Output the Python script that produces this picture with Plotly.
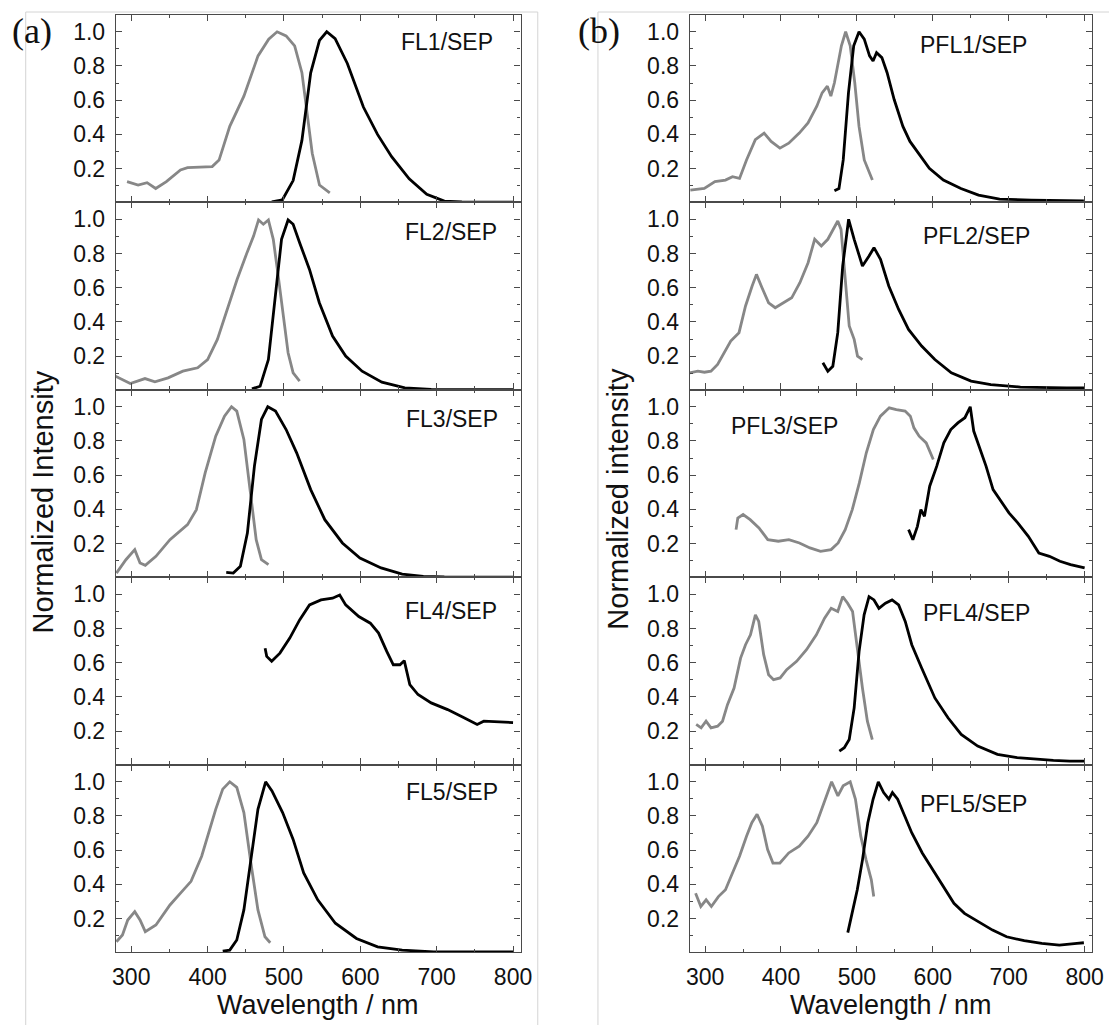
import plotly.graph_objects as go

# ---------------- data ----------------
fl1_ex_x = [294.5, 309, 320.7, 332, 346, 364.5, 373.7, 406, 415, 429, 447.5, 466, 480, 491, 502.8, 514, 523.5, 530, 537, 546.5, 560]
fl1_ex_y = [0.124, 0.104, 0.118, 0.084, 0.124, 0.192, 0.206, 0.212, 0.25, 0.447, 0.624, 0.859, 0.957, 1.0, 0.976, 0.918, 0.761, 0.545, 0.29, 0.104, 0.059]
fl1_em_x = [484, 498, 512, 523.5, 535, 546.5, 556, 567, 583, 604, 622.5, 641, 664, 687, 710, 733, 800]
fl1_em_y = [0.006, 0.018, 0.13, 0.365, 0.76, 0.95, 1.0, 0.96, 0.815, 0.56, 0.40, 0.27, 0.14, 0.05, 0.01, 0.005, 0.004]

fl2_ex_x = [279.3, 288, 298.7, 318, 331, 348.2, 367.6, 387, 400, 412.8, 425.8, 438.7, 451.6, 460.2, 466.7, 473, 479.6, 486, 492.5, 499, 505.4, 512, 520.5]
fl2_ex_y = [0.083, 0.063, 0.04, 0.069, 0.05, 0.073, 0.112, 0.132, 0.18, 0.298, 0.473, 0.649, 0.805, 0.902, 0.996, 0.971, 0.996, 0.883, 0.668, 0.434, 0.22, 0.102, 0.054]
fl2_em_x = [458, 468.8, 479.6, 488.2, 496.8, 505.4, 512, 520.5, 533.4, 546.3, 563.6, 580.8, 602.3, 628.2, 658.3, 692.8, 740, 800]
fl2_em_y = [0.009, 0.024, 0.18, 0.532, 0.883, 0.996, 0.971, 0.863, 0.707, 0.512, 0.317, 0.2, 0.112, 0.048, 0.015, 0.005, 0.004, 0.004]

fl3_ex_x = [280.6, 293, 304.6, 311.5, 318.4, 332.3, 350.7, 373.7, 385.3, 396.8, 410.6, 422.1, 431.3, 438.2, 447.5, 456.7, 463.6, 470.5, 479.7]
fl3_ex_y = [0.028, 0.106, 0.165, 0.087, 0.073, 0.126, 0.223, 0.311, 0.399, 0.614, 0.828, 0.945, 1.0, 0.975, 0.809, 0.458, 0.223, 0.106, 0.077]
fl3_em_x = [424.4, 433.6, 442.9, 452.1, 461.3, 470.5, 478.8, 488.9, 502.8, 516.6, 535, 553.5, 576.5, 599.5, 627.2, 654.8, 682.5, 710, 800]
fl3_em_y = [0.032, 0.028, 0.067, 0.262, 0.653, 0.926, 1.0, 0.975, 0.867, 0.731, 0.516, 0.34, 0.204, 0.116, 0.058, 0.022, 0.009, 0.005, 0.004]

fl4_em_x = [475.3, 477.4, 483.9, 494.7, 507.6, 520.5, 533.4, 548.5, 563.6, 573, 580.8, 598, 613.1, 623.9, 634.6, 643.2, 651.9, 657.5, 664.8, 675.5, 692.8, 714.3, 735.8, 753, 761.7, 780, 800]
fl4_em_y = [0.685, 0.637, 0.608, 0.656, 0.744, 0.85, 0.938, 0.967, 0.977, 0.996, 0.938, 0.87, 0.831, 0.773, 0.666, 0.588, 0.588, 0.612, 0.472, 0.414, 0.365, 0.326, 0.278, 0.239, 0.258, 0.255, 0.25]

fl5_ex_x = [280.6, 288.5, 295.4, 304.6, 311.5, 318.4, 332.3, 350.7, 364.5, 378.3, 392.2, 401.4, 410.6, 419.8, 429, 438.2, 447.5, 456.7, 465.9, 475.1, 482]
fl5_ex_y = [0.065, 0.104, 0.192, 0.241, 0.192, 0.124, 0.163, 0.28, 0.349, 0.418, 0.565, 0.702, 0.839, 0.957, 1.0, 0.967, 0.82, 0.525, 0.251, 0.094, 0.059]
fl5_em_x = [419.8, 429, 438.2, 447.5, 456.7, 465.9, 476, 484.3, 498.2, 512, 525.8, 544.2, 567.3, 594.9, 622.6, 654.8, 696.3, 800]
fl5_em_y = [0.01, 0.016, 0.075, 0.251, 0.545, 0.839, 1.0, 0.947, 0.82, 0.663, 0.467, 0.31, 0.173, 0.084, 0.035, 0.016, 0.006, 0.006]

pfl1_ex_x = [280.6, 299, 313, 326.9, 336.1, 345.4, 354.6, 366.2, 377.8, 387, 398.6, 410.2, 424.1, 435.6, 447.2, 454.2, 461.1, 465.7, 470.4, 475, 479.6, 485.2, 491.2, 497.2, 502.8, 509.7, 520.4]
pfl1_ex_y = [0.075, 0.084, 0.124, 0.133, 0.153, 0.143, 0.251, 0.369, 0.408, 0.359, 0.32, 0.349, 0.408, 0.467, 0.565, 0.643, 0.682, 0.624, 0.702, 0.8, 0.918, 1.0, 0.918, 0.702, 0.447, 0.251, 0.133]
pfl1_em_x = [470.4, 476.4, 482, 488.9, 495.8, 502.8, 509.7, 516.7, 521.3, 525.9, 532.9, 539.8, 549.1, 560.6, 569.9, 581.5, 595.4, 613.9, 637, 660.2, 688, 729.6, 799]
pfl1_em_y = [0.071, 0.084, 0.251, 0.643, 0.918, 1.0, 0.957, 0.859, 0.829, 0.878, 0.849, 0.761, 0.604, 0.447, 0.359, 0.29, 0.202, 0.133, 0.084, 0.045, 0.022, 0.016, 0.012]

pfl2_ex_x = [279.6, 290.5, 299.1, 307.8, 316.5, 325.2, 333.8, 344.7, 353.3, 362, 367.7, 375, 383.7, 392.4, 403.2, 414.1, 424.9, 435.7, 444.4, 453.1, 461.7, 468.3, 474.8, 479.1, 483.4, 489.9, 496.4, 500.8, 507.3]
pfl2_ex_y = [0.102, 0.112, 0.106, 0.112, 0.151, 0.22, 0.288, 0.337, 0.493, 0.61, 0.678, 0.6, 0.512, 0.483, 0.512, 0.541, 0.629, 0.746, 0.883, 0.844, 0.883, 0.941, 0.99, 0.941, 0.727, 0.376, 0.298, 0.2, 0.18]
pfl2_em_x = [455.2, 461.7, 468.3, 474.8, 481.3, 489.1, 496.4, 507.3, 516, 522.5, 531.1, 542, 555, 568, 585.3, 602.7, 624.4, 650.4, 676.4, 715.4, 776.1, 800]
pfl2_em_y = [0.161, 0.112, 0.141, 0.337, 0.727, 1.0, 0.883, 0.727, 0.785, 0.834, 0.766, 0.61, 0.473, 0.356, 0.259, 0.18, 0.102, 0.054, 0.034, 0.019, 0.015, 0.015]

pfl3_ex_x = [340.8, 343.1, 350.1, 359.4, 371, 382.6, 396.5, 410.4, 424.3, 438.2, 452.1, 466, 475.3, 484.6, 493.9, 503.2, 512.4, 521.7, 531, 542.6, 551.9, 563.5, 570.4, 575.1, 582, 591.3, 600.6]
pfl3_ex_y = [0.282, 0.35, 0.37, 0.34, 0.292, 0.223, 0.214, 0.223, 0.204, 0.175, 0.155, 0.165, 0.204, 0.282, 0.399, 0.555, 0.731, 0.867, 0.945, 0.994, 0.984, 0.975, 0.945, 0.877, 0.828, 0.789, 0.692]
pfl3_em_x = [568.1, 573.7, 579.7, 584.3, 589, 595.9, 605.2, 614.5, 623.7, 633, 642.3, 649.3, 653.9, 660.9, 670.1, 679.4, 688.7, 700.3, 711.9, 725.8, 739.7, 753.6, 767.5, 781.4, 800]
pfl3_em_y = [0.282, 0.223, 0.301, 0.399, 0.36, 0.536, 0.653, 0.789, 0.867, 0.906, 0.936, 1.0, 0.858, 0.77, 0.653, 0.516, 0.458, 0.38, 0.321, 0.243, 0.145, 0.126, 0.097, 0.077, 0.058]

pfl4_ex_x = [288.3, 294.8, 301.3, 307.8, 316.5, 323, 329.5, 338.2, 346.8, 353.3, 359.8, 366.3, 370.7, 377.2, 383.7, 390.2, 398.9, 407.5, 420.6, 433.6, 446.6, 457.4, 466.1, 474.8, 481.3, 487.8, 494.3, 500.8, 507.3, 513.8, 520.3]
pfl4_ex_y = [0.239, 0.219, 0.258, 0.219, 0.229, 0.258, 0.355, 0.452, 0.627, 0.705, 0.763, 0.88, 0.841, 0.647, 0.53, 0.501, 0.511, 0.559, 0.608, 0.676, 0.763, 0.86, 0.918, 0.899, 0.986, 0.948, 0.899, 0.666, 0.452, 0.258, 0.151]
pfl4_em_x = [476.9, 483.4, 489.9, 496.4, 502.9, 509.5, 516, 522.5, 529, 537.6, 546.3, 555, 563.7, 572.3, 585.3, 602.7, 620, 637.4, 659.1, 685.1, 711.1, 737.1, 758.8, 780.5, 800]
pfl4_em_y = [0.083, 0.103, 0.151, 0.336, 0.666, 0.88, 0.986, 0.967, 0.918, 0.948, 0.967, 0.938, 0.841, 0.705, 0.569, 0.394, 0.278, 0.181, 0.113, 0.064, 0.045, 0.035, 0.029, 0.025, 0.025]

pfl5_ex_x = [287.5, 294.4, 301.4, 308.3, 317.6, 326.9, 336.1, 345.4, 354.6, 361.6, 368.5, 375.5, 382.4, 389.4, 398.6, 410.2, 424.1, 435.6, 447.2, 456.5, 466.7, 475, 481.9, 491.2, 498.1, 505.1, 512, 519, 522.2]
pfl5_ex_y = [0.349, 0.271, 0.31, 0.271, 0.329, 0.369, 0.467, 0.565, 0.682, 0.761, 0.81, 0.741, 0.604, 0.525, 0.525, 0.584, 0.624, 0.682, 0.761, 0.878, 1.0, 0.918, 0.976, 1.0, 0.898, 0.682, 0.545, 0.427, 0.329]
pfl5_em_x = [488, 493.5, 500.5, 507.4, 514.4, 521.3, 528.2, 535.2, 542.1, 546.8, 553.7, 563, 572.2, 586.1, 600, 613.9, 627.8, 641.7, 660.2, 678.7, 697.2, 720.4, 743.5, 766.7, 789.8, 799]
pfl5_em_y = [0.118, 0.231, 0.369, 0.545, 0.761, 0.898, 1.0, 0.937, 0.898, 0.937, 0.898, 0.8, 0.702, 0.584, 0.486, 0.388, 0.29, 0.231, 0.182, 0.133, 0.094, 0.071, 0.055, 0.045, 0.055, 0.059]

panel_labels = ["FL1/SEP", "FL2/SEP", "FL3/SEP", "FL4/SEP", "FL5/SEP",
                "PFL1/SEP", "PFL2/SEP", "PFL3/SEP", "PFL4/SEP", "PFL5/SEP"]
x_ticks = [300, 400, 500, 600, 700, 800]
x_minor = [350, 450, 550, 650, 750]
y_ticks = [0.2, 0.4, 0.6, 0.8, 1.0]
y_tick_text = ["0.2", "0.4", "0.6", "0.8", "1.0"]
y_minor = [0.1, 0.3, 0.5, 0.7, 0.9]

excitation = [(fl1_ex_x, fl1_ex_y), (fl2_ex_x, fl2_ex_y), (fl3_ex_x, fl3_ex_y), None, (fl5_ex_x, fl5_ex_y),
              (pfl1_ex_x, pfl1_ex_y), (pfl2_ex_x, pfl2_ex_y), (pfl3_ex_x, pfl3_ex_y), (pfl4_ex_x, pfl4_ex_y), (pfl5_ex_x, pfl5_ex_y)]
emission = [(fl1_em_x, fl1_em_y), (fl2_em_x, fl2_em_y), (fl3_em_x, fl3_em_y), (fl4_em_x, fl4_em_y), (fl5_em_x, fl5_em_y),
            (pfl1_em_x, pfl1_em_y), (pfl2_em_x, pfl2_em_y), (pfl3_em_x, pfl3_em_y), (pfl4_em_x, pfl4_em_y), (pfl5_em_x, pfl5_em_y)]

# ---------------- layout geometry (pixels) ----------------
W, H = 1120, 1025
col_x = [(113.5, 523.7), (695.2, 1103.0)]
panel_top0, panel_h = 14.5, 187.5
label_pos = [(650, 0.94), (656, 0.925), (657, 0.93), (656, 0.90), (657, 0.94),
             (581, 0.92), (585, 0.90), (331, 0.89), (585, 0.89), (581, 0.87)]

GRAY = "#878787"
AXC = "#4a4a4a"
SANS = "Liberation Sans, Arial, sans-serif"
TICKFONT = dict(family=SANS, size=23, color="#111111")

fig = go.Figure()
layout = dict(width=W, height=H, margin=dict(l=0, r=0, t=0, b=0),
              paper_bgcolor="white", plot_bgcolor="white", showlegend=False)
annotations = []

for k in range(10):
    n = k + 1
    col, row = divmod(k, 5)
    xs = "x" if n == 1 else f"x{n}"
    ys = "y" if n == 1 else f"y{n}"
    x0, x1 = col_x[col]
    top = panel_top0 + panel_h * row
    bot = top + panel_h
    if excitation[k] is not None:
        ex, ey = excitation[k]
        fig.add_trace(go.Scatter(x=ex, y=ey, mode="lines", line=dict(color=GRAY, width=2.8),
                                 xaxis=xs, yaxis=ys, hoverinfo="skip"))
    mx, my = emission[k]
    fig.add_trace(go.Scatter(x=mx, y=my, mode="lines", line=dict(color="black", width=2.8),
                             xaxis=xs, yaxis=ys, hoverinfo="skip"))
    layout[f"xaxis{'' if n == 1 else n}"] = dict(
        domain=[x0 / W, x1 / W], range=[280, 810], anchor=ys,
        tickvals=x_ticks, ticktext=[str(v) for v in x_ticks], ticks="inside", ticklen=6, tickwidth=1.2,
        tickcolor=AXC, minor=dict(tickvals=x_minor, ticks="inside", ticklen=3, tickcolor=AXC, tickwidth=1.2),
        showline=True, linecolor=AXC, linewidth=1.4, mirror="allticks",
        showgrid=False, zeroline=False, showticklabels=(row == 4), tickfont=TICKFONT,
        ticklabelstandoff=4)
    layout[f"yaxis{'' if n == 1 else n}"] = dict(
        domain=[1 - bot / H, 1 - top / H], range=[0.005, 1.101], anchor=xs,
        tickvals=y_ticks, ticktext=y_tick_text, ticks="inside", ticklen=6, tickwidth=1.2,
        tickcolor=AXC, minor=dict(tickvals=y_minor, ticks="inside", ticklen=3, tickcolor=AXC, tickwidth=1.2),
        showline=True, linecolor=AXC, linewidth=1.4, mirror="allticks",
        showgrid=False, zeroline=False, tickfont=TICKFONT, ticklabelstandoff=5)
    lx, ly = label_pos[k]
    annotations.append(dict(x=lx, y=ly, xref=xs, yref=ys, text=panel_labels[k], showarrow=False,
                            xanchor="left", yanchor="middle",
                            font=dict(family=SANS, size=23, color="#111111")))

XTITLE = dict(family=SANS, size=27, color="#111111")
YTITLE = dict(family=SANS, size=29, color="#111111")
SERIF = dict(family="Liberation Serif, Times New Roman, serif", size=36, color="#111111")
annotations += [
    dict(x=318.6 / W, y=1 - 1005 / H, xref="paper", yref="paper", text="Wavelength / nm", showarrow=False,
         xanchor="center", yanchor="middle", font=XTITLE),
    dict(x=899 / W, y=1 - 1005 / H, xref="paper", yref="paper", text="Wavelength / nm", showarrow=False,
         xanchor="center", yanchor="middle", font=XTITLE),
    dict(x=40 / W, y=1 - 502 / H, xref="paper", yref="paper", text="Normalized Intensity", showarrow=False,
         textangle=-90, xanchor="center", yanchor="middle", font=YTITLE),
    dict(x=622 / W, y=1 - 499 / H, xref="paper", yref="paper", text="Normalized intensity", showarrow=False,
         textangle=-90, xanchor="center", yanchor="middle", font=YTITLE),
    dict(x=28 / W, y=1 - 31 / H, xref="paper", yref="paper", text="(a)", showarrow=False,
         xanchor="center", yanchor="middle", font=SERIF),
    dict(x=603 / W, y=1 - 31 / H, xref="paper", yref="paper", text="(b)", showarrow=False,
         xanchor="center", yanchor="middle", font=SERIF),
]
layout["annotations"] = annotations

FRAME = "#d4d4d4"
layout["shapes"] = [
    dict(type="line", xref="paper", yref="paper", x0=22 / W, x1=541 / W, y0=1 - 12 / H, y1=1 - 12 / H, line=dict(color=FRAME, width=1)),
    dict(type="line", xref="paper", yref="paper", x0=22 / W, x1=22 / W, y0=1 - 12 / H, y1=0, line=dict(color=FRAME, width=1)),
    dict(type="line", xref="paper", yref="paper", x0=541 / W, x1=541 / W, y0=1 - 12 / H, y1=0, line=dict(color=FRAME, width=1)),
    dict(type="line", xref="paper", yref="paper", x0=602 / W, x1=1, y0=1 - 12 / H, y1=1 - 12 / H, line=dict(color=FRAME, width=1)),
    dict(type="line", xref="paper", yref="paper", x0=602 / W, x1=602 / W, y0=1 - 12 / H, y1=0, line=dict(color=FRAME, width=1)),
]

fig.update_layout(**layout)
fig.write_html("out.html", config={"displayModeBar": False},
               post_script="document.body.style.margin='0';document.body.style.overflow='hidden';")
